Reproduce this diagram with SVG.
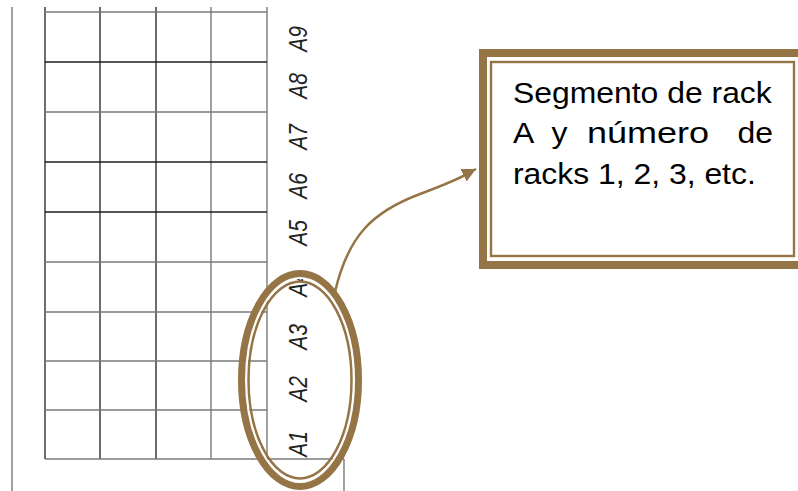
<svg xmlns="http://www.w3.org/2000/svg" width="798" height="491" viewBox="0 0 798 491">
  <style>
    .dk { stroke: #1e1e1e; stroke-width: 1.3; fill: none; }
    .gr { stroke: #7a7a7a; stroke-width: 1.4; fill: none; }
    .lbl { font-family: "Liberation Sans", "DejaVu Sans", sans-serif; font-style: italic; font-size: 21px; fill: #222; text-anchor: middle; }
    .note { font-family: "Liberation Sans", Arial, sans-serif; font-size: 29px; fill: #000; }
    .brown { stroke: #957446; fill: none; }
  </style>
  <defs>
    <marker id="head" markerUnits="userSpaceOnUse" markerWidth="16" markerHeight="14" refX="14" refY="7" orient="auto">
      <path d="M0,0 L14,7 L0,14 Z" fill="#957446"/>
    </marker>
  </defs>

  <!-- rack grid -->
  <g id="rack-grid">
    <line class="gr" x1="12" y1="7" x2="12" y2="491"/>
    <line class="dk" x1="45" y1="7" x2="45" y2="459"/>
    <line class="dk" x1="100" y1="7" x2="100" y2="459"/>
    <line class="dk" x1="156" y1="7" x2="156" y2="459"/>
    <line class="gr" x1="211" y1="7" x2="211" y2="459"/>
    <line class="gr" x1="267" y1="7" x2="267" y2="459"/>
    <line class="gr" x1="45" y1="12" x2="267" y2="12"/>
    <line class="dk" x1="45" y1="62" x2="267" y2="62"/>
    <line class="gr" x1="45" y1="112" x2="267" y2="112"/>
    <line class="dk" x1="45" y1="162" x2="267" y2="162"/>
    <line class="dk" x1="45" y1="212" x2="267" y2="212"/>
    <line class="gr" x1="45" y1="262" x2="267" y2="262"/>
    <line class="gr" x1="45" y1="312" x2="267" y2="312"/>
    <line class="gr" x1="45" y1="361" x2="267" y2="361"/>
    <line class="gr" x1="45" y1="410" x2="267" y2="410"/>
    <line class="gr" x1="45" y1="459" x2="344" y2="459"/>
    <line class="gr" x1="344" y1="459" x2="344" y2="491"/>
  </g>

  <!-- rack labels, read bottom to top -->
  <g id="rack-labels">
    <text class="lbl" transform="translate(307 39) scale(1.2 1) rotate(-90)">A9</text>
    <text class="lbl" transform="translate(307 86) scale(1.2 1) rotate(-90)">A8</text>
    <text class="lbl" transform="translate(307 137) scale(1.2 1) rotate(-90)">A7</text>
    <text class="lbl" transform="translate(307 186) scale(1.2 1) rotate(-90)">A6</text>
    <text class="lbl" transform="translate(307 233) scale(1.2 1) rotate(-90)">A5</text>
    <text class="lbl" transform="translate(307 284) scale(1.2 1) rotate(-90)">A4</text>
    <text class="lbl" transform="translate(307 337) scale(1.2 1) rotate(-90)">A3</text>
    <text class="lbl" transform="translate(307 389) scale(1.2 1) rotate(-90)">A2</text>
    <text class="lbl" transform="translate(307 444) scale(1.2 1) rotate(-90)">A1</text>
  </g>

  <!-- double ring around A1-A4 -->
  <g id="highlight-ring">
    <ellipse cx="300" cy="380" rx="54.5" ry="102.5" fill="none" stroke="#fff" stroke-width="3"/>
    <ellipse class="brown" cx="300" cy="380" rx="58.5" ry="106.5" stroke-width="7"/>
    <ellipse class="brown" cx="300" cy="380" rx="51.5" ry="98.5" stroke-width="2.5"/>
  </g>

  <!-- connector -->
  <g id="connectors">
    <path class="brown" d="M335,292 C348,236 372,212 420,194 S458,178 476,169" stroke-width="2.5" marker-end="url(#head)"/>
  </g>

  <!-- note box -->
  <g id="note-box">
    <rect class="brown" x="483" y="53" width="330" height="212" stroke-width="8" fill="#fff"/>
    <rect class="brown" x="491" y="62" width="303" height="194" stroke-width="2.4"/>
    <g transform="translate(513 0) scale(1.1 1)">
      <text class="note" x="0" y="103">Segmento de rack</text>
      <text class="note" x="0" y="143">A</text>
      <text class="note" x="35" y="143">y</text>
      <text class="note" x="67.3" y="143" textLength="111" lengthAdjust="spacingAndGlyphs">número</text>
      <text class="note" x="236.4" y="143" text-anchor="end">de</text>
      <text class="note" x="0" y="184">racks 1, 2, 3, etc.</text>
    </g>
  </g>
</svg>
